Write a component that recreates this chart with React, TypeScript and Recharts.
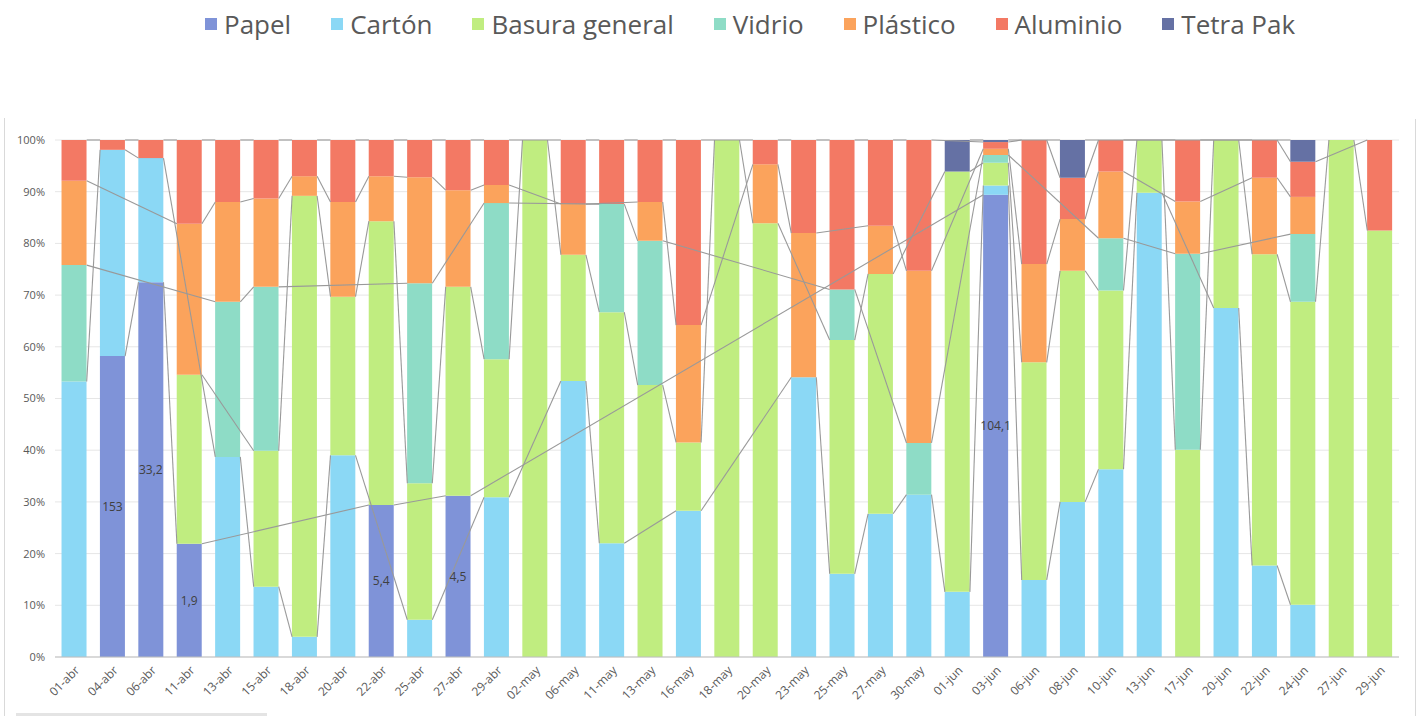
import { ComposedChart, Bar, Line, XAxis, YAxis, CartesianGrid, LabelList } from 'recharts'

const categories = [
  '01-abr', '04-abr', '06-abr', '11-abr', '13-abr', '15-abr', '18-abr', '20-abr', '22-abr', '25-abr',
  '27-abr', '29-abr', '02-may', '06-may', '11-may', '13-may', '16-may', '18-may', '20-may', '23-may',
  '25-may', '27-may', '30-may', '01-jun', '03-jun', '06-jun', '08-jun', '10-jun', '13-jun', '17-jun',
  '20-jun', '22-jun', '24-jun', '27-jun', '29-jun',
]

// share of each material per day (%), null = not collected
const papel = [
  null, 58.2, 72.5, 21.9, null, null, null, null, 29.4, null,
  31.2, null, null, null, null, null, null, null, null, null,
  null, null, null, null, 89.4, null, null, null, null, null,
  null, null, null, null, null,
]
const carton = [
  53.3, 39.9, 24.0, null, 38.7, 13.6, 3.9, 39.0, null, 7.2,
  null, 30.9, null, 53.4, 22.0, null, 28.3, null, null, 54.1,
  16.1, 27.7, 31.4, 12.6, 1.8, 14.9, 30.0, 36.3, 89.8, null,
  67.5, 17.7, 10.1, null, null,
]
const basura = [
  null, null, null, 32.7, null, 26.3, 85.3, 30.7, 54.9, 26.4,
  40.4, 26.7, 100, 24.4, 44.7, 52.6, 13.2, 100, 83.9, null,
  45.2, 46.4, null, 81.3, 4.4, 42.1, 44.7, 34.6, 10.2, 40.1,
  32.5, 60.2, 58.6, 100, 82.5,
]
const vidrio = [
  22.5, null, null, null, 30.0, 31.7, null, null, null, 38.7,
  null, 30.2, null, null, 20.9, 27.9, null, null, null, null,
  9.8, null, 10.0, null, 1.5, null, null, 10.1, null, 37.9,
  null, null, 13.1, null, null,
]
const plastico = [
  16.3, null, null, 29.2, 19.3, 17.1, 3.8, 18.3, 8.7, 20.5,
  18.7, 3.5, null, 9.8, null, 7.5, 22.7, null, 11.4, 27.9,
  null, 9.3, 33.3, null, 1.2, 19.0, 10.0, 12.9, null, 10.1,
  null, 14.8, 7.2, null, null,
]
const aluminio = [
  7.9, 1.9, 3.5, 16.2, 12.0, 11.3, 7.0, 12.0, 7.0, 7.2,
  9.7, 8.7, null, 12.4, 12.4, 12.0, 35.8, null, 4.7, 18.0,
  28.9, 16.6, 25.3, null, 1.3, 24.0, 8.0, 6.1, null, 11.9,
  null, 7.3, 6.8, null, 17.5,
]
const tetra = [
  null, null, null, null, null, null, null, null, null, null,
  null, null, null, null, null, null, null, null, null, null,
  null, null, null, 6.1, 0.4, null, 7.3, null, null, null,
  null, null, 4.2, null, null,
]

// kg labels shown on the Papel bars
const papelLabels = [
  '', '153', '33,2', '1,9', '', '', '', '', '5,4', '',
  '4,5', '', '', '', '', '', '', '', '', '',
  '', '', '', '', '104,1', '', '', '', '', '',
  '', '', '', '', '',
]

const series = [
  { key: 'papel', name: 'Papel', color: '#7f93d8', values: papel },
  { key: 'carton', name: 'Cartón', color: '#8bd8f5', values: carton },
  { key: 'basura', name: 'Basura general', color: '#c0ed80', values: basura },
  { key: 'vidrio', name: 'Vidrio', color: '#8edcc6', values: vidrio },
  { key: 'plastico', name: 'Plástico', color: '#fba35c', values: plastico },
  { key: 'aluminio', name: 'Aluminio', color: '#f37964', values: aluminio },
  { key: 'tetra', name: 'Tetra Pak', color: '#6571a4', values: tetra },
]

const yTicks = [0, 0.1, 0.2, 0.3, 0.4, 0.5, 0.6, 0.7, 0.8, 0.9, 1]

const GAP = 0.17
const FONT = '"Open Sans", sans-serif'

const rows = categories.map((cat, i) => {
  const row: Record<string, any> = { cat, papelLabel: papelLabels[i] }
  const total = series.reduce((s, sr) => s + (sr.values[i] ?? 0), 0)
  let cum = 0
  series.forEach((sr) => {
    const v = sr.values[i]
    row[sr.key] = v ?? 0
    cum += v ?? 0
    row['top_' + sr.key] = v == null ? null : cum / total
  })
  return row
})

// Excel-style series lines: from the top of a segment to the same series in the next bar that has it
const SeriesLineDot = (props: any) => {
  const { cx, cy, index, points, value } = props
  const key = `sl-${index}`
  if (value == null || cy == null || !points || points.length < 2) return <g key={key} />
  let j = index + 1
  while (j < points.length && (points[j].value == null || points[j].y == null)) j++
  if (j >= points.length) return <g key={key} />
  const step = points[1].x - points[0].x
  const hw = Math.floor(step * (1 - 2 * GAP)) / 2
  return (
    <line
      key={key}
      x1={cx + hw}
      y1={cy}
      x2={points[j].x - hw}
      y2={points[j].y}
      stroke="#999999"
      strokeWidth={1.1}
    />
  )
}

function Legend() {
  return (
    <div
      style={{
        position: 'absolute',
        left: 205,
        top: 6,
        display: 'flex',
        alignItems: 'center',
        fontFamily: FONT,
        fontSize: 26,
        color: '#595959',
        whiteSpace: 'nowrap',
      }}
    >
      {series.map((s) => (
        <div key={s.key} style={{ display: 'flex', alignItems: 'center', marginRight: 40 }}>
          <span style={{ width: 12, height: 12, background: s.color, marginRight: 7, display: 'inline-block' }} />
          <span>{s.name}</span>
        </div>
      ))}
    </div>
  )
}

export default function App() {
  return (
    <div style={{ position: 'absolute', left: 0, top: 0, width: 1423, height: 716, background: '#fff' }}>
      <Legend />
      <div style={{ position: 'absolute', left: 4, top: 118, width: 1, height: 598, background: '#d9d9d9' }} />
      <div style={{ position: 'absolute', left: 1415, top: 119, width: 1, height: 597, background: '#d9d9d9' }} />
      <div style={{ position: 'absolute', left: 16, top: 713, width: 251, height: 3, background: '#e4e4e4' }} />
      <div style={{ position: 'absolute', left: 0, top: 0 }}>
        <ComposedChart
          width={1423}
          height={716}
          data={rows}
          stackOffset="expand"
          barCategoryGap={`${GAP * 100}%`}
          margin={{ top: 140, right: 24, bottom: 0, left: 0 }}
        >
          <CartesianGrid vertical={false} stroke="#e6e6e6" />
          <XAxis
            dataKey="cat"
            interval={0}
            height={59}
            angle={-45}
            textAnchor="end"
            tickLine={false}
            tickSize={0}
            tickMargin={8}
            axisLine={{ stroke: '#bfbfbf' }}
            tick={{ fill: '#595959', fontSize: 12, fontFamily: FONT }}
          />
          <YAxis
            width={55}
            domain={[0, 1]}
            ticks={yTicks}
            tickFormatter={(v: number) => `${Math.round(v * 100)}%`}
            axisLine={false}
            tickLine={false}
            tickSize={0}
            tickMargin={10}
            tick={{ fill: '#595959', fontSize: 11, fontFamily: FONT }}
          />
          {series.map((s) => (
            <Bar key={s.key} dataKey={s.key} name={s.name} stackId="a" fill={s.color} isAnimationActive={false}>
              {s.key === 'papel' && (
                <LabelList dataKey="papelLabel" position="center" fill="#404040" fontSize={12} fontFamily={FONT} />
              )}
            </Bar>
          ))}
          {series.map((s) => (
            <Line
              key={'line-' + s.key}
              dataKey={'top_' + s.key}
              stroke="none"
              legendType="none"
              dot={SeriesLineDot}
              activeDot={false}
              isAnimationActive={false}
            />
          ))}
        </ComposedChart>
      </div>
    </div>
  )
}
